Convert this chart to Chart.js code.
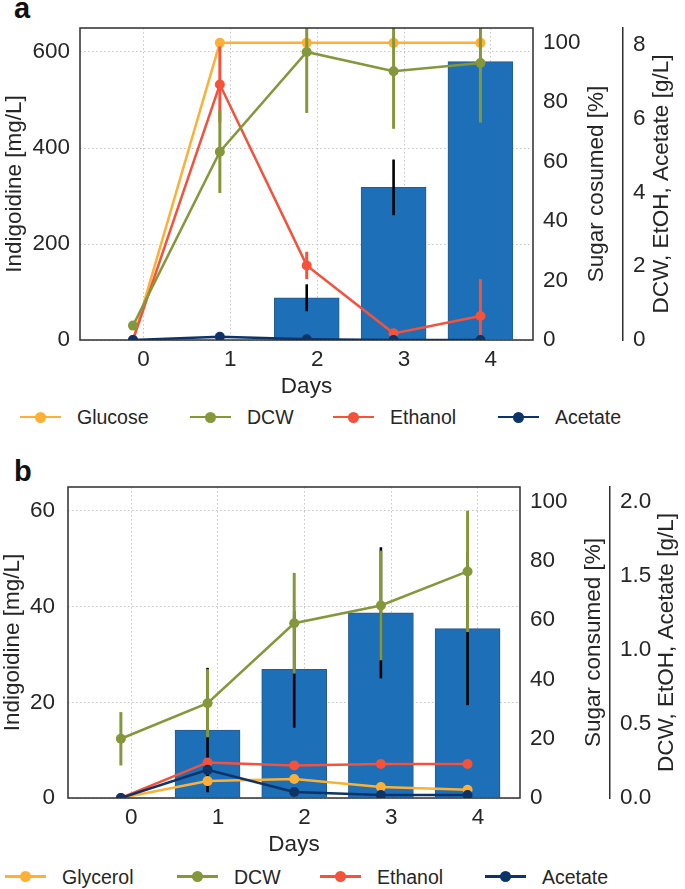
<!DOCTYPE html>
<html>
<head>
<meta charset="utf-8">
<title>Indigoidine production</title>
<script src="https://cdn.jsdelivr.net/npm/chart.js@4.4.1/dist/chart.umd.min.js"></script>
<style>
  html, body { margin: 0; padding: 0; background: #fff; }
  body { position: relative; width: 685px; height: 889px; overflow: hidden;
         font-family: 'Liberation Sans', Arial, sans-serif; color: #262626; }
  canvas { position: absolute; left: 0; }
  #chartA { top: 0; }
  #chartB { top: 445px; }
  .tag { position: absolute; left: 14px; font-size: 29px; font-weight: bold; line-height: 1; color: #111; }
  .legend { position: absolute; left: 0; width: 685px; height: 24px; }
  .legend .item { position: absolute; top: 0; height: 24px; display: flex; align-items: center;
                  font-size: 19.5px; line-height: 24px; white-space: nowrap; }
  .legend .sym { position: relative; width: 41px; height: 24px; margin-right: 16px; }
  .legend .ln { position: absolute; left: 0; right: 0; top: 10.75px; height: 2.5px; }
  .legend .dot { position: absolute; left: 15px; top: 6.5px; width: 11px; height: 11px; border-radius: 50%; }
</style>
</head>
<body>
<div class="tag" style="top:-6px">a</div>
<canvas id="chartA" width="685" height="400"></canvas>
<div class="legend" id="legendA" style="top:405px"></div>
<div class="tag" style="top:457px">b</div>
<canvas id="chartB" width="685" height="411"></canvas>
<div class="legend" id="legendB" style="top:864.5px"></div>
<script>
// days on the x axis, the marks sit a bit left of each tick like in the original
const DAYS = [0, 1, 2, 3, 4];
const DAY_SHIFT = -0.12;
const X_TITLE = 'Days';

// panel a (glucose)
const A_NAMES = ['Glucose', 'DCW', 'Ethanol', 'Acetate'];
const A_INDIGOIDINE = [0, 0, 88, 318, 580];
const A_INDIGOIDINE_ERR = [0, 0, 28, 58, 0];
const A_GLUCOSE = [0, 100, 100, 100, 100];
const A_DCW = [0.39, 5.10, 7.80, 7.28, 7.50];
const A_DCW_ERR = [0.1, 1.12, 1.65, 1.56, 1.61];
const A_ETHANOL = [0, 6.92, 2.02, 0.18, 0.65];
const A_ETHANOL_ERR = [0, 1.03, 0.37, 0.05, 1.0];
const A_ACETATE = [0, 0.09, 0.02, 0, 0];
const A_LEFT_TICKS = [0, 200, 400, 600];
const A_GL_TICKS = [0, 2, 4, 6, 8];

// panel b (glycerol)
const B_NAMES = ['Glycerol', 'DCW', 'Ethanol', 'Acetate'];
const B_INDIGOIDINE = [0, 14.2, 26.9, 38.7, 35.4];
const B_INDIGOIDINE_ERR = [0, 13, 12.2, 13.7, 16.0];
const B_GLYCEROL = [0, 5.7, 6.4, 3.7, 2.8];
const B_DCW = [0.40, 0.64, 1.18, 1.30, 1.53];
const B_DCW_ERR = [0.18, 0.23, 0.34, 0.37, 0.41];
const B_ETHANOL = [0, 0.24, 0.22, 0.23, 0.23];
const B_ETHANOL_ERR = [0, 0, 0, 0, 0.02];
const B_ACETATE = [0, 0.19, 0.04, 0.02, 0.02];
const B_LEFT_TICKS = [0, 20, 40, 60];
const B_GL_TICKS = [0, 0.5, 1.0, 1.5, 2.0];

const SUGAR_TICKS = [0, 20, 40, 60, 80, 100];

const COLORS = ['#fdb035', '#85973b', '#f5513b', '#0e3467'];
const BAR_COLOR = '#1d6fb7';
const BAR_EDGE = '#2a5a86';
const TXT = '#262626';
const GRID = '#c4c4c4';
const FONT = "'Liberation Sans', Arial, sans-serif";
const AXIS_FONT = { family: FONT, size: 22.5, lineHeight: 1 };

// error bars, clipped to the plot box like matplotlib does
function drawErrors(chart, index) {
    const ds = chart.data.datasets[index];
    if (!ds.errors) return;
    const meta = chart.getDatasetMeta(index);
    const yScale = chart.scales[ds.yAxisID];
    const a = chart.chartArea;
    const ctx = chart.ctx;
    ctx.save();
    ctx.beginPath();
    ctx.rect(a.left, a.top, a.right - a.left, a.bottom - a.top);
    ctx.clip();
    ctx.strokeStyle = ds.errColor;
    ctx.lineWidth = ds.errWidth;
    ds.errors.forEach(function (e, i) {
        if (!e) return;
        const v = ds.data[i].y;
        const x = meta.data[i].x;
        ctx.beginPath();
        ctx.moveTo(x, yScale.getPixelForValue(v + e));
        ctx.lineTo(x, yScale.getPixelForValue(v - e));
        ctx.stroke();
    });
    ctx.restore();
}

const errorBars = {
    id: 'errorBars',
    // bar errors go on top of the bar, line errors under the markers
    beforeDatasetDraw(chart, args) { if (args.meta.type !== 'bar') drawErrors(chart, args.index); },
    afterDatasetDraw(chart, args) { if (args.meta.type === 'bar') drawErrors(chart, args.index); }
};

const frame = {
    id: 'frame',
    afterDatasetsDraw(chart) {
        const { ctx, chartArea: a } = chart;
        ctx.save();
        ctx.strokeStyle = '#2e2e2e';
        ctx.lineWidth = 1.5;
        ctx.strokeRect(a.left, a.top, a.right - a.left, a.bottom - a.top);
        ctx.restore();
    }
};

// right hand titles read bottom to top, chart.js would turn them the other way
const sideTitles = {
    id: 'sideTitles',
    afterDraw(chart, args, opts) {
        const { ctx, chartArea } = chart;
        const y = (chartArea.top + chartArea.bottom) / 2;
        ctx.save();
        ctx.fillStyle = TXT;
        ctx.font = AXIS_FONT.size + 'px ' + FONT;
        ctx.textAlign = 'center';
        ctx.textBaseline = 'middle';
        (opts.items || []).forEach(function (it) {
            ctx.save();
            ctx.translate(it.x, y);
            ctx.rotate(-Math.PI / 2);
            ctx.fillText(it.text, 0, 0);
            ctx.restore();
        });
        ctx.restore();
    }
};

function fixedTicks(values) {
    return function (scale) { scale.ticks = values.map(v => ({ value: v })); };
}

function buildChart(canvasId, p) {
    const pts = vals => DAYS.map((d, i) => ({ x: d + DAY_SHIFT, y: vals[i] }));
    const line = (label, vals, errs, color, axis, order) => ({
        type: 'line', label: label, data: pts(vals), yAxisID: axis, order: order,
        borderColor: color, backgroundColor: color, borderWidth: 2.5, tension: 0,
        pointRadius: 5, pointBorderWidth: 0, pointBackgroundColor: color,
        errors: errs, errColor: color, errWidth: 3
    });

    const datasets = [
        line(p.names[0], p.sugar, null, COLORS[0], 'y2', 5),
        line(p.names[1], p.dcw, p.dcwErr, COLORS[1], 'y3', 3),
        line(p.names[2], p.etoh, p.etohErr, COLORS[2], 'y3', 4),
        line(p.names[3], p.acet, null, COLORS[3], 'y3', 2),
        {
            type: 'bar', label: 'Indigoidine', data: pts(p.bars), yAxisID: 'y', order: 10,
            backgroundColor: BAR_COLOR, borderColor: BAR_EDGE, borderWidth: 1, barThickness: 65,
            errors: p.barErr, errColor: '#000', errWidth: 2.6
        }
    ];

    const tickOpts = (pad, fmt) => ({ color: TXT, font: AXIS_FONT, padding: pad, callback: fmt });

    return new Chart(document.getElementById(canvasId), {
        type: 'line',
        data: { datasets: datasets },
        plugins: [errorBars, frame, sideTitles],
        options: {
            responsive: false,
            animation: false,
            devicePixelRatio: 1,
            events: [],
            layout: { padding: { top: p.padTop, bottom: p.padBottom, left: 0, right: 0 } },
            plugins: {
                legend: { display: false },
                tooltip: { enabled: false },
                sideTitles: { items: p.sideTitles }
            },
            scales: {
                x: {
                    type: 'linear', min: -0.73, max: 4.485, offset: false,
                    afterBuildTicks: fixedTicks(DAYS),
                    grid: { color: GRID, lineWidth: 1, drawTicks: false, offset: false },
                    border: { display: false, dash: [1.5, 2.5] },
                    ticks: { color: TXT, font: AXIS_FONT, padding: 9, maxRotation: 0, autoSkip: false,
                             callback: v => String(v) },
                    title: { display: true, text: X_TITLE, color: TXT, font: AXIS_FONT, padding: 0 },
                    afterFit: s => { s.height = 58; }
                },
                y: {
                    position: 'left', min: 0, max: p.leftMax,
                    afterBuildTicks: fixedTicks(p.leftTicks),
                    grid: { color: GRID, lineWidth: 1, drawTicks: false },
                    border: { display: false, dash: [1.5, 2.5] },
                    ticks: tickOpts(p.leftPad, v => String(v)),
                    title: { display: true, text: 'Indigoidine [mg/L]', color: TXT, font: AXIS_FONT,
                             padding: { top: p.leftTitlePad, bottom: 0 } },
                    afterFit: s => { s.width = p.leftWidth; }
                },
                y2: {
                    position: 'right', min: 0, max: 105, weight: 0,
                    afterBuildTicks: fixedTicks(SUGAR_TICKS),
                    grid: { display: false, drawTicks: false },
                    border: { display: false },
                    ticks: tickOpts(10, v => String(v)),
                    afterFit: s => { s.width = 90; }
                },
                y3: {
                    position: 'right', min: 0, max: p.glMax, weight: 1,
                    afterBuildTicks: fixedTicks(p.glTicks),
                    grid: { display: false, drawTicks: false },
                    border: { display: true, color: '#2e2e2e', width: 1.5 },
                    ticks: tickOpts(10, p.glFmt),
                    afterFit: s => { s.width = p.glWidth; }
                }
            }
        }
    });
}

function buildLegend(id, names, lefts) {
    const box = document.getElementById(id);
    names.forEach(function (name, i) {
        const item = document.createElement('div');
        item.className = 'item';
        item.style.left = lefts[i] + 'px';
        item.innerHTML = '<span class="sym"><span class="ln" style="background:' + COLORS[i] +
            '"></span><span class="dot" style="background:' + COLORS[i] + '"></span></span><span>' +
            name + '</span>';
        box.appendChild(item);
    });
}

buildChart('chartA', {
    names: A_NAMES, bars: A_INDIGOIDINE, barErr: A_INDIGOIDINE_ERR, sugar: A_GLUCOSE,
    dcw: A_DCW, dcwErr: A_DCW_ERR, etoh: A_ETHANOL, etohErr: A_ETHANOL_ERR, acet: A_ACETATE,
    leftMax: 650, leftTicks: A_LEFT_TICKS, glMax: 8.45, glTicks: A_GL_TICKS, glFmt: v => String(v),
    padTop: 28, padBottom: 2, leftWidth: 80, leftPad: 10, leftTitlePad: 3.25, glWidth: 62,
    sideTitles: [{ text: 'Sugar cosumed [%]', x: 597 }, { text: 'DCW, EtOH, Acetate [g/L]', x: 662 }]
});

buildChart('chartB', {
    names: B_NAMES, bars: B_INDIGOIDINE, barErr: B_INDIGOIDINE_ERR, sugar: B_GLYCEROL,
    dcw: B_DCW, dcwErr: B_DCW_ERR, etoh: B_ETHANOL, etohErr: B_ETHANOL_ERR, acet: B_ACETATE,
    leftMax: 65, leftTicks: B_LEFT_TICKS, glMax: 2.1, glTicks: B_GL_TICKS, glFmt: v => v.toFixed(1),
    padTop: 42, padBottom: 0, leftWidth: 68, leftPad: 13, leftTitlePad: 1.25, glWidth: 75,
    sideTitles: [{ text: 'Sugar consumed [%]', x: 594 }, { text: 'DCW, EtOH, Acetate [g/L]', x: 667 }]
});

buildLegend('legendA', A_NAMES, [20, 190, 333, 498]);
buildLegend('legendB', B_NAMES, [5, 177, 320, 485]);
</script>
</body>
</html>
